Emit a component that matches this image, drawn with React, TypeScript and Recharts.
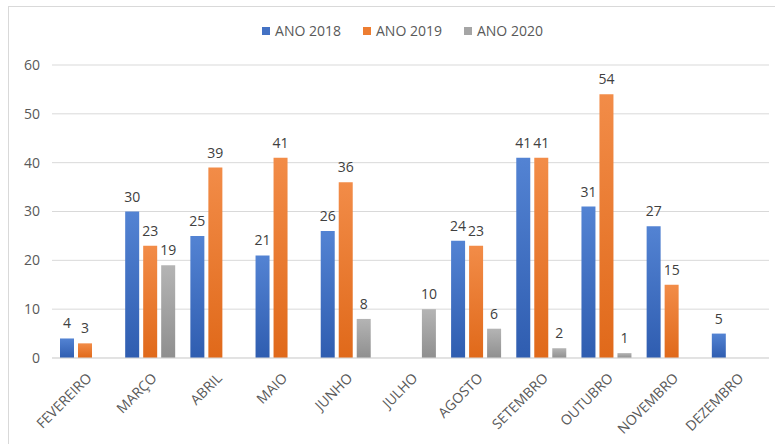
import React from 'react'
import { BarChart, Bar, XAxis, YAxis, CartesianGrid, LabelList } from 'recharts'

const months = ['FEVEREIRO', 'MARÇO', 'ABRIL', 'MAIO', 'JUNHO', 'JULHO', 'AGOSTO', 'SETEMBRO', 'OUTUBRO', 'NOVEMBRO', 'DEZEMBRO']
const ano2018 = [4, 30, 25, 21, 26, null, 24, 41, 31, 27, 5]
const ano2019 = [3, 23, 39, 41, 36, null, 23, 41, 54, 15, null]
const ano2020 = [null, 19, null, null, 8, 10, 6, 2, 1, null, null]
const yTicks = [0, 10, 20, 30, 40, 50, 60]

const series = [
  { key: 'a2018', name: 'ANO 2018', color: '#4472C4', top: '#5383d3', bottom: '#2f5db0' },
  { key: 'a2019', name: 'ANO 2019', color: '#ED7D31', top: '#f28c48', bottom: '#e0691a' },
  { key: 'a2020', name: 'ANO 2020', color: '#A5A5A5', top: '#b4b4b4', bottom: '#8f8f8f' },
]

const data = months.map((m, i) => ({ month: m, a2018: ano2018[i], a2019: ano2019[i], a2020: ano2020[i] }))

const FONT = '"Open Sans", "Liberation Sans", sans-serif'
const TXT = '#595959'

const MonthTick = (props: any) => {
  const { x, y, payload } = props
  const tx = x + 1
  const ty = y + 6
  return (
    <text
      x={tx}
      y={ty}
      transform={`rotate(-45, ${tx}, ${ty})`}
      textAnchor="end"
      dy="0.71em"
      fontSize={14}
      fill={TXT}
      fontFamily={FONT}
    >
      {payload.value}
    </text>
  )
}

export default function App() {
  return (
    <div style={{ position: 'absolute', left: 0, top: 0, width: 775, height: 444, overflow: 'hidden', background: '#fff', fontFamily: FONT }}>
      <div style={{ position: 'absolute', left: 8, top: 6, width: 800, height: 500, border: '1px solid #d9d9d9' }} />
      <div style={{ position: 'absolute', left: 0, top: 21, width: 805, display: 'flex', justifyContent: 'center', gap: 22, fontSize: 14, color: TXT }}>
        {series.map((s) => (
          <div key={s.key} style={{ display: 'flex', alignItems: 'center', gap: 5 }}>
            <span style={{ width: 8, height: 8, background: s.color, display: 'inline-block' }} />
            <span>{s.name}</span>
          </div>
        ))}
      </div>
      <div style={{ position: 'absolute', left: 0, top: 0 }}>
        <BarChart width={775} height={444} data={data} margin={{ top: 65, right: 6, bottom: 0, left: 0 }} barSize={14} barGap={4}>
          <defs>
            {series.map((s) => (
              <linearGradient key={s.key} id={`g-${s.key}`} x1="0" y1="0" x2="0" y2="1">
                <stop offset="0%" stopColor={s.top} />
                <stop offset="100%" stopColor={s.bottom} />
              </linearGradient>
            ))}
          </defs>
          <CartesianGrid vertical={false} stroke="#d9d9d9" />
          <XAxis
            dataKey="month"
            height={86}
            interval={0}
            tickLine={false}
            axisLine={{ stroke: '#d9d9d9' }}
            tick={<MonthTick />}
          />
          <YAxis
            width={52}
            domain={[0, 60]}
            ticks={yTicks}
            tickLine={false}
            axisLine={false}
            tickMargin={6}
            tick={{ fontSize: 14, fill: TXT, fontFamily: FONT }}
          />
          {series.map((s) => (
            <Bar key={s.key} dataKey={s.key} name={s.name} fill={`url(#g-${s.key})`} isAnimationActive={false}>
              <LabelList dataKey={s.key} position="top" offset={10} fontSize={14} fill="#404040" fontFamily={FONT} />
            </Bar>
          ))}
        </BarChart>
      </div>
    </div>
  )
}
